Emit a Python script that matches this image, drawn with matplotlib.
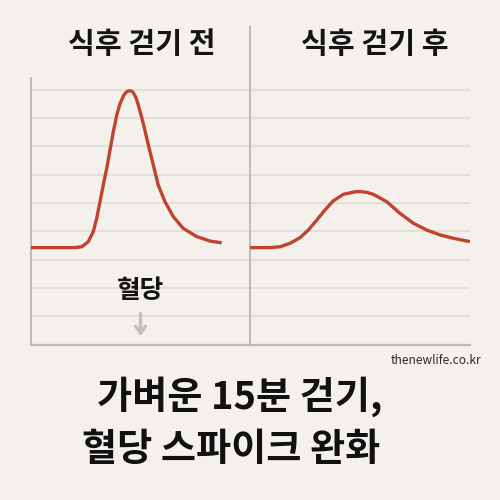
import matplotlib
matplotlib.use("Agg")
from matplotlib import pyplot as plt

plt.rcParams['font.family'] = ['Noto Sans CJK KR', 'DejaVu Sans']

# donnees (temps en minutes, glycemie en unites de grille)
t_avant = [0, 15.9, 24.1, 27.8, 31.4, 34.1, 36.0, 37.8, 39.6, 41.5, 43.3, 45.1, 47.0,
           48.8, 51.1, 52.6, 54.2, 55.9, 57.6, 58.8, 61.5, 64.3, 67.0, 69.7, 73.4, 78.0,
           83.4, 90.8, 98.1, 104.5]
g_avant = [3.42, 3.42, 3.42, 3.45, 3.63, 3.98, 4.45, 5.04, 5.63, 6.22, 6.87, 7.51, 8.10,
           8.51, 8.83, 8.93, 8.96, 8.91, 8.70, 8.45, 7.81, 7.04, 6.34, 5.63, 5.04, 4.51,
           4.10, 3.81, 3.65, 3.59]

t_apres = [0, 10.9, 16.4, 21.8, 27.3, 31.8, 36.4, 40.9, 45.4, 50.9, 57.3, 60.0, 63.7,
           67.3, 74.6, 81.8, 89.1, 96.4, 103.6, 110.9, 120.0]
g_apres = [3.42, 3.42, 3.45, 3.57, 3.77, 4.04, 4.39, 4.75, 5.07, 5.30, 5.39, 5.40, 5.37,
           5.30, 5.04, 4.63, 4.28, 4.04, 3.87, 3.75, 3.63]

titres = ["식후 걷기 전", "식후 걷기 후"]
grille = [1, 2, 3, 4, 5, 6, 7, 8, 9]
label_y = "혈당"
titre_bas = ["가벼운 15분 걷기,", "혈당 스파이크 완화"]
source = "thenewlife.co.kr"

fond = "#f4f1ec"
rouge = "#c0432f"
gris_axe = "#bdbab5"
gris_grille = "#e2ded8"

fig = plt.figure(figsize=(5, 5), dpi=100, facecolor=fond)

H = 500.0
haut_px = 344.5 - 27.0
ymax = haut_px / 28.33

ax1 = fig.add_axes([31 / 500, (H - 344.5) / H, 219 / 500, haut_px / H])
ax2 = fig.add_axes([250 / 500, (H - 344.5) / H, 220 / 500, haut_px / H])

for ax in (ax1, ax2):
    ax.set_facecolor("none")
    ax.set_xlim(0, 120)
    ax.set_ylim(0, ymax)
    ax.set_xticks([])
    ax.set_yticks([])
    for g in grille:
        ax.axhline(g, color=gris_grille, lw=1.5, zorder=1)
    for s in ("top", "right"):
        ax.spines[s].set_visible(False)
    ax.spines["bottom"].set_color(gris_axe)
    ax.spines["bottom"].set_linewidth(1.6)
    ax.spines["left"].set_color(gris_axe)
    ax.spines["left"].set_linewidth(1.4)

ax1.spines["left"].set_bounds(0, (344.5 - 78) / 28.33)

ax1.plot(t_avant, g_avant, color=rouge, lw=2.4, solid_capstyle="butt", solid_joinstyle="round", zorder=3)
ax2.plot(t_apres, g_apres, color=rouge, lw=2.4, solid_capstyle="butt", solid_joinstyle="round", zorder=3)

fig.text(141.5 / 500, 1 - 44.5 / H, titres[0], ha="center", va="center",
         fontsize=21, fontweight="bold", color="#141414")
fig.text(375 / 500, 1 - 44.5 / H, titres[1], ha="center", va="center",
         fontsize=21, fontweight="bold", color="#141414")

fig.text(140.5 / 500, 1 - 290 / H, label_y, ha="center", va="center",
         fontsize=18.5, fontweight="bold", color="#141414")
ax1.annotate("", xy=(140.5 / 500, 1 - 339 / H), xytext=(140.5 / 500, 1 - 311 / H),
             xycoords="figure fraction", textcoords="figure fraction",
             arrowprops=dict(arrowstyle="->,head_length=0.5,head_width=0.35", color="#c4c1bc", lw=2.5))

fig.text(481 / 500, 1 - 360 / H, source, ha="right", va="center", fontsize=8.6, color="#2a2a2a")

fig.text(240 / 500, 1 - 397 / H, titre_bas[0], ha="center", va="center",
         fontsize=27.5, fontweight="bold", color="#111111")
fig.text(231 / 500, 1 - 450 / H, titre_bas[1], ha="center", va="center",
         fontsize=27.5, fontweight="bold", color="#111111")

fig.savefig("out.png", dpi=100, facecolor=fond)
